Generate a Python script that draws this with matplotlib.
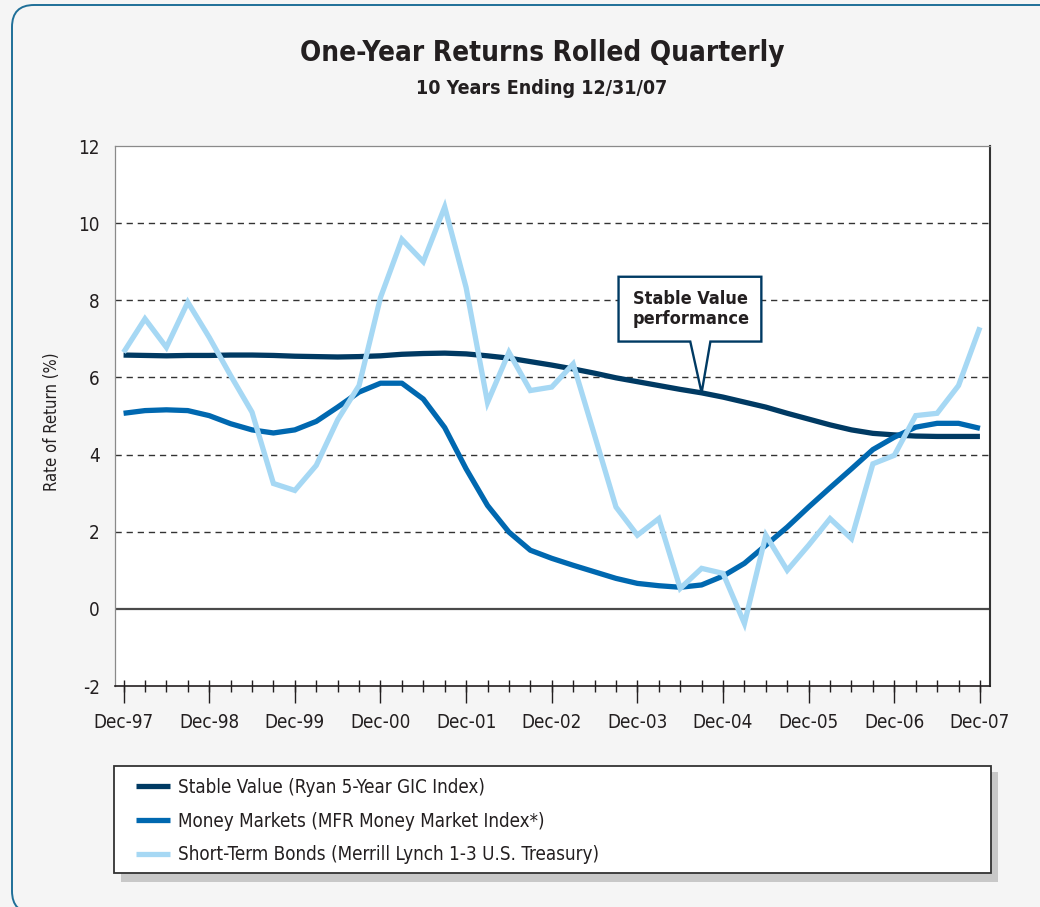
import matplotlib
matplotlib.use("Agg")
import matplotlib.pyplot as plt
from matplotlib import font_manager
from matplotlib.patches import FancyBboxPatch, Rectangle, Polygon
from matplotlib.transforms import IdentityTransform
from matplotlib.ticker import MultipleLocator, FixedLocator

# ---------------- data ----------------
quarters = list(range(41))  # Dec-97 ... Dec-07, quarterly
year_labels = ["Dec-97", "Dec-98", "Dec-99", "Dec-00", "Dec-01", "Dec-02",
               "Dec-03", "Dec-04", "Dec-05", "Dec-06", "Dec-07"]
series_names = ["Stable Value (Ryan 5-Year GIC Index)",
                "Money Markets (MFR Money Market Index*)",
                "Short-Term Bonds (Merrill Lynch 1-3 U.S. Treasury)"]

stable_value = [6.58, 6.57, 6.56, 6.57, 6.57, 6.58, 6.58, 6.57, 6.55, 6.54,
                6.53, 6.54, 6.56, 6.60, 6.62, 6.63, 6.61, 6.56, 6.50, 6.41,
                6.32, 6.22, 6.11, 5.99, 5.89, 5.79, 5.69, 5.60, 5.49, 5.36,
                5.23, 5.07, 4.92, 4.77, 4.64, 4.55, 4.51, 4.48, 4.47, 4.47,
                4.47]
money_markets = [5.07, 5.14, 5.16, 5.14, 5.01, 4.80, 4.64, 4.56, 4.64, 4.86,
                 5.23, 5.62, 5.85, 5.85, 5.44, 4.70, 3.63, 2.68, 1.99, 1.52,
                 1.31, 1.13, 0.96, 0.79, 0.66, 0.60, 0.56, 0.62, 0.85, 1.18,
                 1.65, 2.12, 2.64, 3.14, 3.63, 4.13, 4.45, 4.71, 4.81, 4.81,
                 4.68]
short_bonds = [6.65, 7.52, 6.78, 7.95, 7.04, 6.05, 5.10, 3.25, 3.07, 3.72,
               4.90, 5.79, 8.07, 9.58, 9.00, 10.42, 8.33, 5.35, 6.65, 5.66,
               5.75, 6.35, 4.50, 2.64, 1.91, 2.34, 0.53, 1.05, 0.92, -0.38,
               1.91, 1.00, 1.65, 2.34, 1.82, 3.76, 3.98, 5.01, 5.07, 5.79,
               7.30]
y_ticks = [-2, 0, 2, 4, 6, 8, 10, 12]

# ---------------- fonts ----------------
names = {f.name for f in font_manager.fontManager.ttflist}
if "Liberation Sans Narrow" in names:
    FONT = dict(family="Liberation Sans Narrow")
elif any(f.name == "DejaVu Sans" and f.stretch not in (400, "normal")
         for f in font_manager.fontManager.ttflist):
    FONT = dict(family="DejaVu Sans", stretch="condensed")
else:
    FONT = dict(family="Liberation Sans")

TXT = "#231f20"
NAVY = "#003a63"
MID = "#0068b0"
LIGHT = "#a6d8f4"
BG = "#f5f5f5"

W, H = 1040, 907
fig = plt.figure(figsize=(W / 100, H / 100), dpi=100, facecolor=BG)

# rounded outer border (pixel coords)
border = FancyBboxPatch((12, -6), 1070, 908, boxstyle="round,pad=0,rounding_size=22",
                        transform=IdentityTransform(), facecolor=BG,
                        edgecolor="#1f6f98", linewidth=1.4, zorder=0)
fig.add_artist(border)

# axes placement
ax_l, ax_r, ax_t, ax_b = 115, 990, 146, 686
ax = fig.add_axes([ax_l / W, 1 - ax_b / H, (ax_r - ax_l) / W, (ax_b - ax_t) / H])
ax.set_facecolor("white")
ax.set_zorder(2)

lw = 3.8
l1, = ax.plot(quarters, stable_value, color=NAVY, lw=lw, solid_joinstyle="round",
              solid_capstyle="butt", zorder=3, label=series_names[0])
l2, = ax.plot(quarters, money_markets, color=MID, lw=lw, solid_joinstyle="round",
              solid_capstyle="butt", zorder=3.1, label=series_names[1])
l3, = ax.plot(quarters, short_bonds, color=LIGHT, lw=lw, solid_joinstyle="miter",
              solid_capstyle="butt", zorder=3.2, label=series_names[2])

ax.set_xlim(-0.4, 40.47)
ax.set_ylim(-2, 12)

# gridlines
for v in y_ticks:
    if v in (-2, 12):
        continue
    if v == 0:
        ax.axhline(v, color="#4a4a4a", lw=1.6, zorder=1)
    else:
        ax.axhline(v, color="#333333", lw=1.0, dashes=(4.5, 3.5), zorder=1)

# spines
for s in ("top", "left"):
    ax.spines[s].set_color("#8a8a8a")
    ax.spines[s].set_linewidth(0.9)
ax.spines["right"].set_color("#333333")
ax.spines["right"].set_linewidth(1.5)
ax.spines["bottom"].set_color("#231f20")
ax.spines["bottom"].set_linewidth(1.2)

TICK_FS = 13.5
# ticks
ax.set_yticks(y_ticks)
ax.set_yticklabels([str(v) for v in y_ticks])
ax.tick_params(axis="y", length=0, pad=11, labelcolor=TXT)
ax.xaxis.set_major_locator(FixedLocator(quarters[::4]))
ax.xaxis.set_minor_locator(MultipleLocator(1))
ax.xaxis.remove_overlapping_locs = False
ax.set_xticklabels(year_labels)
ax.tick_params(axis="x", which="major", direction="out", length=12.5, width=1.0,
               color=TXT, pad=7, labelcolor=TXT)
ax.tick_params(axis="x", which="minor", direction="inout", length=8.6, width=1.0,
               color=TXT)
for lab in ax.get_xticklabels() + ax.get_yticklabels():
    lab.set_fontproperties(font_manager.FontProperties(size=TICK_FS, **FONT))

ax.set_ylabel("Rate of Return (%)", fontsize=12, color=TXT, **FONT)
ax.yaxis.set_label_coords(-0.062, 0.49)

# callout box
cx0, cx1, cy0, cy1 = 23.12, 29.79, 6.93, 8.61
bx0, bx1 = 26.47, 27.41
tip = (27, stable_value[27])
callout = Polygon([(cx0, cy1), (cx1, cy1), (cx1, cy0), (bx1, cy0), tip,
                   (bx0, cy0), (cx0, cy0)], closed=True, facecolor="white",
                  edgecolor=NAVY, lw=1.7, joinstyle="miter", zorder=5,
                  clip_on=False)
ax.add_patch(callout)
ax.text(23.8, 7.77, "Stable Value\nperformance", ha="left", va="center",
        multialignment="left", fontsize=13, fontweight="bold", color=TXT,
        linespacing=1.1, zorder=6, **FONT)

# titles
fig.text(542 / W, 1 - 53 / H, "One-Year Returns Rolled Quarterly", ha="center",
         va="center", fontsize=20, fontweight="bold", color=TXT, **FONT)
fig.text(542 / W, 1 - 89 / H, "10 Years Ending 12/31/07", ha="center",
         va="center", fontsize=14, fontweight="bold", color=TXT, **FONT)

# legend box with shadow (pixel coords)
fig.add_artist(Rectangle((121, H - 882), 877, 110, transform=IdentityTransform(),
                         facecolor="#c8c8c8", edgecolor="none", zorder=1))
fig.add_artist(Rectangle((114, H - 873), 877, 107, transform=IdentityTransform(),
                         facecolor="white", edgecolor="#333333", lw=1.3, zorder=1.5))
leg = ax.legend(handles=[l1, l2, l3], loc="upper left",
                bbox_to_anchor=(136 / W, 1 - 778 / H),
                bbox_transform=fig.transFigure, frameon=False, borderpad=0,
                borderaxespad=0, handlelength=1.8, handletextpad=0.45,
                labelspacing=0.78, prop=font_manager.FontProperties(size=13.5, **FONT))
for t in leg.get_texts():
    t.set_color(TXT)
for h in leg.legend_handles:
    h.set_linewidth(3.8)

fig.savefig("out.png", dpi=100, facecolor=BG)
